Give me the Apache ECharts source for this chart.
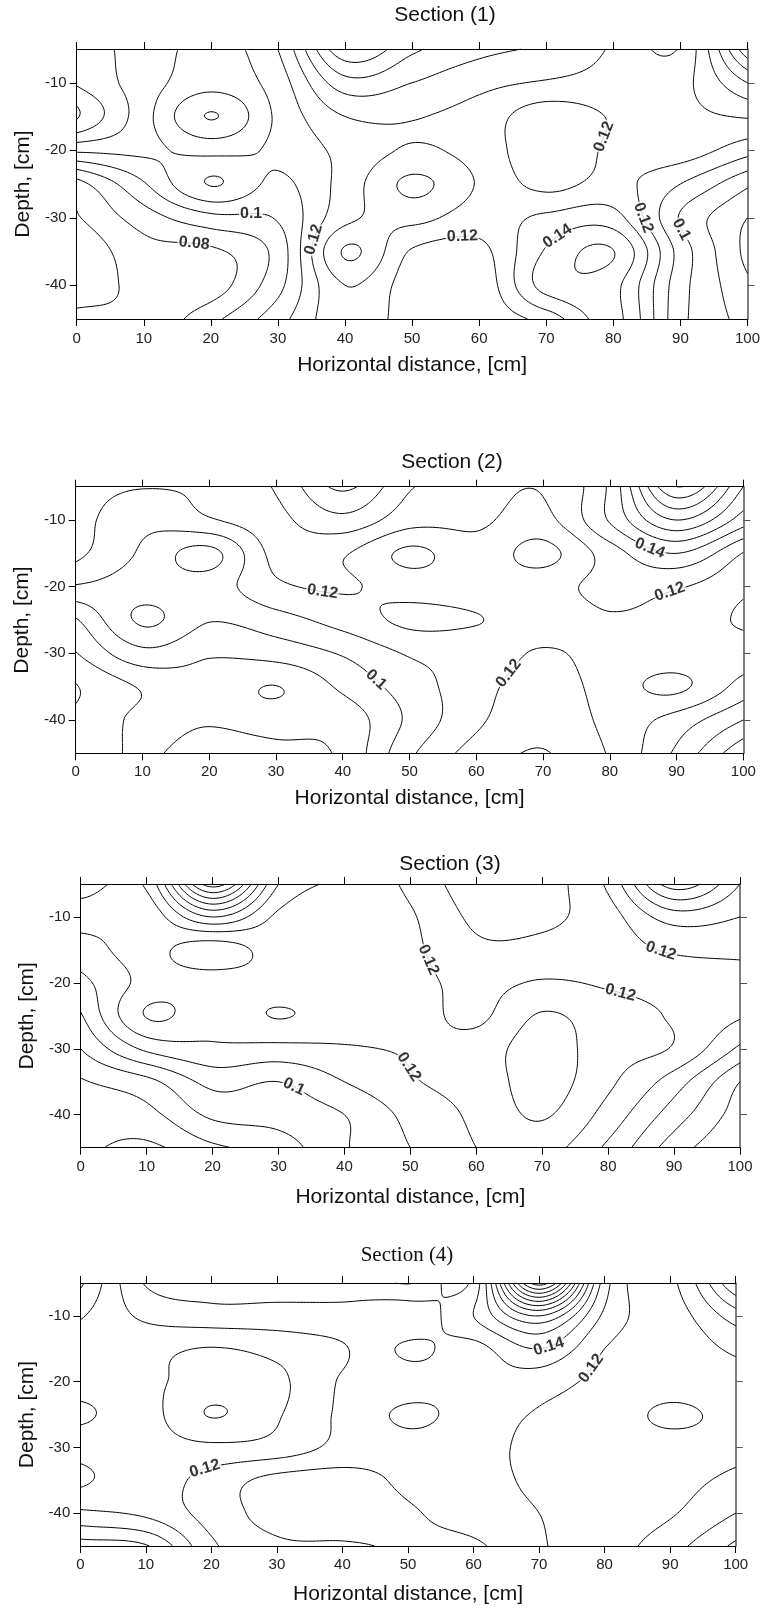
<!DOCTYPE html>
<html lang="en">
<head>
<meta charset="UTF-8" />
<title>Sections</title>
<script src="https://cdn.jsdelivr.net/npm/echarts@6.0.0/dist/echarts.min.js"></script>
<style>
  html, body { margin: 0; padding: 0; background: #fff; }
  #box { width: 763px; height: 1610px; }
</style>
</head>
<body>
<div id="box"></div>
<script>
// grid of readings: columns = horizontal distance, rows = depth
var xCols = [0, 10, 20, 30, 40, 50, 60, 70, 80, 90, 100];
var depthRows = [-5, -10, -15, -20, -25, -30, -35, -40, -45];
var yTicks = [-40, -30, -20, -10];
var levels = [0.06, 0.07, 0.08, 0.09, 0.1, 0.11, 0.12, 0.13, 0.14, 0.15, 0.16, 0.17, 0.18, 0.19, 0.2, 0.21, 0.22, 0.23, 0.24];

var section1 = [
  [0.125, 0.116, 0.107, 0.120, 0.168, 0.152, 0.143, 0.138, 0.129, 0.121, 0.178],
  [0.129, 0.115, 0.104, 0.115, 0.146, 0.140, 0.133, 0.129, 0.127, 0.127, 0.150],
  [0.141, 0.114, 0.0895, 0.112, 0.130, 0.1305, 0.126, 0.114, 0.121, 0.127, 0.131],
  [0.112, 0.112, 0.107, 0.112, 0.123, 0.131, 0.126, 0.113, 0.122, 0.125, 0.114],
  [0.076, 0.099, 0.1205, 0.108, 0.124, 0.142, 0.129, 0.117, 0.123, 0.110, 0.092],
  [0.069, 0.085, 0.097, 0.101, 0.127, 0.133, 0.125, 0.132, 0.134, 0.099, 0.080],
  [0.062, 0.076, 0.078, 0.094, 0.141, 0.119, 0.117, 0.141, 0.1503, 0.106, 0.077],
  [0.066, 0.072, 0.075, 0.097, 0.130, 0.115, 0.113, 0.144, 0.143, 0.104, 0.082],
  [0.072, 0.072, 0.087, 0.106, 0.127, 0.115, 0.113, 0.124, 0.143, 0.103, 0.086]
];
var section2 = [
  [0.124, 0.1205, 0.1225, 0.131, 0.152, 0.131, 0.125, 0.121, 0.142, 0.200, 0.160],
  [0.124, 0.113, 0.119, 0.127, 0.137, 0.124, 0.122, 0.117, 0.141, 0.170, 0.145],
  [0.1225, 0.1085, 0.097, 0.123, 0.121, 0.108, 0.116, 0.107, 0.125, 0.140, 0.1195],
  [0.109, 0.106, 0.105, 0.118, 0.121, 0.116, 0.115, 0.116, 0.123, 0.121, 0.112],
  [0.089, 0.1115, 0.1005, 0.106, 0.114, 0.122, 0.1205, 0.115, 0.119, 0.116, 0.1085],
  [0.0795, 0.097, 0.091, 0.094, 0.101, 0.111, 0.114, 0.121, 0.116, 0.114, 0.114],
  [0.0695, 0.081, 0.086, 0.0798, 0.092, 0.105, 0.116, 0.125, 0.117, 0.122, 0.106],
  [0.072, 0.082, 0.081, 0.083, 0.084, 0.102, 0.118, 0.127, 0.117, 0.106, 0.090],
  [0.075, 0.081, 0.076, 0.077, 0.082, 0.108, 0.124, 0.1305, 0.119, 0.098, 0.072]
];
var section3 = [
  [0.135, 0.132, 0.205, 0.140, 0.128, 0.118, 0.104, 0.106, 0.122, 0.165, 0.140],
  [0.124, 0.123, 0.150, 0.128, 0.126, 0.121, 0.108, 0.108, 0.116, 0.135, 0.130],
  [0.116, 0.123, 0.114, 0.125, 0.126, 0.122, 0.112, 0.113, 0.116, 0.121, 0.122],
  [0.107, 0.123, 0.126, 0.124, 0.125, 0.123, 0.117, 0.121, 0.119, 0.118, 0.116],
  [0.099, 0.1305, 0.124, 0.1305, 0.125, 0.124, 0.118, 0.131, 0.124, 0.119, 0.111],
  [0.090, 0.112, 0.118, 0.117, 0.119, 0.121, 0.124, 0.135, 0.124, 0.119, 0.098],
  [0.079, 0.087, 0.103, 0.100, 0.110, 0.119, 0.124, 0.134, 0.122, 0.105, 0.080],
  [0.074, 0.077, 0.092, 0.094, 0.100, 0.113, 0.122, 0.131, 0.116, 0.095, 0.075],
  [0.072, 0.068, 0.078, 0.085, 0.099, 0.110, 0.120, 0.124, 0.108, 0.085, 0.070]
];
var section4 = [
  [0.098, 0.131, 0.135, 0.135, 0.134, 0.1405, 0.133, 0.245, 0.135, 0.118, 0.160],
  [0.109, 0.122, 0.126, 0.126, 0.127, 0.124, 0.140, 0.170, 0.128, 0.116, 0.135],
  [0.115, 0.113, 0.1095, 0.113, 0.119, 0.1315, 0.127, 0.140, 0.120, 0.114, 0.122],
  [0.114, 0.112, 0.106, 0.108, 0.121, 0.126, 0.128, 0.125, 0.117, 0.114, 0.116],
  [0.1085, 0.113, 0.0995, 0.109, 0.122, 0.1315, 0.126, 0.119, 0.115, 0.1085, 0.113],
  [0.116, 0.114, 0.112, 0.114, 0.123, 0.127, 0.124, 0.117, 0.114, 0.113, 0.112],
  [0.1215, 0.115, 0.124, 0.133, 0.134, 0.128, 0.124, 0.118, 0.115, 0.113, 0.108],
  [0.108, 0.112, 0.124, 0.134, 0.135, 0.131, 0.126, 0.120, 0.116, 0.111, 0.100],
  [0.085, 0.089, 0.118, 0.128, 0.129, 0.131, 0.1315, 0.121, 0.115, 0.104, 0.088]
];

// contour labels: text, level, approx x, approx y
var labels1 = [["0.1", 0.1, 26, -29.4], ["0.08", 0.08, 17.4, -33.9], ["0.12", 0.12, 35.7, -33.4],
  ["0.12", 0.12, 57.6, -32.1], ["0.14", 0.14, 72, -33], ["0.12", 0.12, 82, -19.5],
  ["0.12", 0.12, 85, -29.7], ["0.1", 0.1, 89.6, -31.9]];
var labels2 = [["0.12", 0.12, 36.6, -23], ["0.1", 0.1, 45, -34], ["0.12", 0.12, 66.3, -34],
  ["0.14", 0.14, 85.5, -15.5], ["0.12", 0.12, 89, -21]];
var labels3 = [["0.1", 0.1, 32.2, -35.8], ["0.12", 0.12, 48, -34], ["0.12", 0.12, 55, -15.5],
  ["0.12", 0.12, 88.4, -14], ["0.12", 0.12, 81.5, -22.5]];
var labels4 = [["0.12", 0.12, 18.8, -31.7], ["0.14", 0.14, 71.6, -14.9], ["0.12", 0.12, 75.9, -16.7]];

var panels = [
  { title: "Section (1)", grid: section1, labels: labels1, box: [76.7, 49, 671.6, 270], tpos: [445, 15], serif: false, xGap: 36, xMargin: 12, yGap: 43 },
  { title: "Section (2)", grid: section2, labels: labels2, box: [75.7, 486.7, 667.6, 266.6], tpos: [452, 462], serif: false, xGap: 34, xMargin: 11, yGap: 39 },
  { title: "Section (3)", grid: section3, labels: labels3, box: [80.7, 884, 659.3, 263.7], tpos: [450, 864], serif: false, xGap: 39, xMargin: 12, yGap: 40 },
  { title: "Section (4)", grid: section4, labels: labels4, box: [80.3, 1283, 655.4, 263], tpos: [407, 1255], serif: true, xGap: 38, xMargin: 11, yGap: 35 }
];

// --- field sampling (Catmull-Rom across the reading grid) ---
function cell(g, r, c) {
  var nr = g.length, nc = g[0].length;
  if (r < 0) return 2 * cell(g, 0, c) - cell(g, 1, c);
  if (r >= nr) return 2 * cell(g, nr - 1, c) - cell(g, nr - 2, c);
  if (c < 0) return 2 * cell(g, r, 0) - cell(g, r, 1);
  if (c >= nc) return 2 * cell(g, r, nc - 1) - cell(g, r, nc - 2);
  return g[r][c];
}
function cubic(p0, p1, p2, p3, t) {
  return p1 + 0.5 * t * (p2 - p0 + t * (2 * p0 - 5 * p1 + 4 * p2 - p3 + t * (3 * (p1 - p2) + p3 - p0)));
}
function sample(g, x, y) {
  var u = (x - xCols[0]) / (xCols[1] - xCols[0]);
  var v = (y - depthRows[0]) / (depthRows[1] - depthRows[0]);
  var i = Math.min(Math.floor(u), g[0].length - 2), j = Math.min(Math.floor(v), g.length - 2);
  var t = u - i, s = v - j, rows = [];
  for (var k = -1; k <= 2; k++) {
    rows.push(cubic(cell(g, j + k, i - 1), cell(g, j + k, i), cell(g, j + k, i + 1), cell(g, j + k, i + 2), t));
  }
  return cubic(rows[0], rows[1], rows[2], rows[3], s);
}

// --- marching squares ---
function contours(g) {
  var nx = 200, ny = 160;
  var x0 = xCols[0], x1 = xCols[xCols.length - 1];
  var y0 = depthRows[0], y1 = depthRows[depthRows.length - 1];
  var dx = (x1 - x0) / nx, dy = (y1 - y0) / ny;
  var F = [];
  for (var j = 0; j <= ny; j++) {
    var row = [];
    for (var i = 0; i <= nx; i++) row.push(sample(g, x0 + i * dx, y0 + j * dy));
    F.push(row);
  }
  var out = [];
  levels.forEach(function (L) {
    var pts = {}, segs = [];
    function hp(i, j) {
      var k = "h" + i + "_" + j;
      if (!pts[k]) { var a = F[j][i], b = F[j][i + 1], t = (L - a) / (b - a); pts[k] = [x0 + (i + t) * dx, y0 + j * dy]; }
      return k;
    }
    function vp(i, j) {
      var k = "v" + i + "_" + j;
      if (!pts[k]) { var a = F[j][i], b = F[j + 1][i], t = (L - a) / (b - a); pts[k] = [x0 + i * dx, y0 + (j + t) * dy]; }
      return k;
    }
    for (var j = 0; j < ny; j++) {
      for (var i = 0; i < nx; i++) {
        var a = F[j][i], b = F[j][i + 1], c = F[j + 1][i + 1], d = F[j + 1][i];
        var cs = (a >= L ? 8 : 0) | (b >= L ? 4 : 0) | (c >= L ? 2 : 0) | (d >= L ? 1 : 0);
        if (cs === 0 || cs === 15) continue;
        var T = hp(i, j), B = hp(i, j + 1), Lf = vp(i, j), R = vp(i + 1, j);
        var mid = (a + b + c + d) / 4 >= L;
        switch (cs) {
          case 1: case 14: segs.push([Lf, B]); break;
          case 2: case 13: segs.push([B, R]); break;
          case 3: case 12: segs.push([Lf, R]); break;
          case 4: case 11: segs.push([T, R]); break;
          case 6: case 9: segs.push([T, B]); break;
          case 7: case 8: segs.push([Lf, T]); break;
          case 5:
            if (mid) { segs.push([Lf, T]); segs.push([B, R]); } else { segs.push([T, R]); segs.push([Lf, B]); }
            break;
          case 10:
            if (mid) { segs.push([T, R]); segs.push([Lf, B]); } else { segs.push([Lf, T]); segs.push([B, R]); }
            break;
        }
      }
    }
    // chain segments into polylines
    var adj = {}, used = [];
    segs.forEach(function (s, k) {
      (adj[s[0]] = adj[s[0]] || []).push(k);
      (adj[s[1]] = adj[s[1]] || []).push(k);
      used.push(false);
    });
    function grow(chain) {
      while (true) {
        var end = chain[chain.length - 1], nxt = -1, list = adj[end];
        for (var q = 0; q < list.length; q++) if (!used[list[q]]) { nxt = list[q]; break; }
        if (nxt < 0) break;
        used[nxt] = true;
        chain.push(segs[nxt][0] === end ? segs[nxt][1] : segs[nxt][0]);
      }
    }
    for (var k = 0; k < segs.length; k++) {
      if (used[k]) continue;
      used[k] = true;
      var chain = [segs[k][0], segs[k][1]];
      grow(chain); chain.reverse(); grow(chain);
      out.push({ level: L, coords: chain.map(function (key) { return pts[key]; }) });
    }
  });
  return out;
}

function placeLabels(lines, labs, box) {
  var sx = box[2] / 100, sy = box[3] / 40;
  return labs.map(function (lb) {
    var best = null, bd = Infinity;
    lines.forEach(function (ln) {
      if (Math.abs(ln.level - lb[1]) > 1e-6) return;
      ln.coords.forEach(function (p, idx) {
        var d = Math.hypot((p[0] - lb[2]) * sx, (p[1] - lb[3]) * sy);
        if (d < bd) { bd = d; best = { ln: ln, idx: idx }; }
      });
    });
    var pos = [lb[2], lb[3]], ang = 0;
    if (best && bd < 40) {
      var c = best.ln.coords, n = c.length;
      var p1 = c[Math.max(0, best.idx - 4)], p2 = c[Math.min(n - 1, best.idx + 4)];
      pos = c[best.idx];
      ang = Math.atan2((p2[1] - p1[1]) * sy, (p2[0] - p1[0]) * sx) * 180 / Math.PI;
      if (ang > 90) ang -= 180;
      if (ang < -90) ang += 180;
    }
    return { value: pos, label: { formatter: lb[0], rotate: ang } };
  });
}

var sans = "Liberation Sans, Arial, sans-serif";
var grids = [], xAxes = [], yAxes = [], series = [], graphics = [];
panels.forEach(function (p, n) {
  var b = p.box;
  grids.push({ left: b[0], top: b[1], width: b[2], height: b[3] });
  var tick = { length: 7, lineStyle: { color: "#000", width: 1 } };
  var line = { onZero: false, lineStyle: { color: "#000", width: 1 } };
  xAxes.push({
    gridIndex: n, type: "value", min: 0, max: 100, interval: 10, position: "bottom",
    axisLine: line, axisTick: tick, splitLine: { show: false },
    axisLabel: { fontSize: 15, color: "#222", fontFamily: sans, margin: p.xMargin },
    name: "Horizontal distance, [cm]", nameLocation: "middle", nameGap: p.xGap,
    nameTextStyle: { fontSize: 21, color: "#111", fontFamily: sans }
  });
  xAxes.push({
    gridIndex: n, type: "value", min: 0, max: 100, interval: 10, position: "top",
    axisLine: line, axisTick: tick, axisLabel: { show: false }, splitLine: { show: false }
  });
  yAxes.push({
    gridIndex: n, type: "value", min: -45, max: -5, position: "left",
    axisLine: line, axisTick: { length: 7, lineStyle: { color: "#000" }, customValues: yTicks },
    splitLine: { show: false },
    axisLabel: { fontSize: 15, color: "#222", fontFamily: sans, margin: 10, customValues: yTicks },
    name: "Depth, [cm]", nameLocation: "middle", nameGap: p.yGap,
    nameTextStyle: { fontSize: 21, color: "#111", fontFamily: sans }
  });
  yAxes.push({
    gridIndex: n, type: "value", min: -45, max: -5, position: "right",
    axisLine: { onZero: false, lineStyle: { color: "#555", width: 1.5 } },
    axisTick: { length: 7, lineStyle: { color: "#555" }, customValues: yTicks },
    axisLabel: { show: false, customValues: yTicks }, splitLine: { show: false }
  });
  var cl = contours(p.grid);
  series.push({
    type: "lines", coordinateSystem: "cartesian2d", polyline: true,
    xAxisIndex: n * 2, yAxisIndex: n * 2, silent: true, animation: false,
    lineStyle: { color: "#000", width: 1, opacity: 1 },
    data: cl.map(function (c) { return { coords: c.coords }; })
  });
  series.push({
    type: "scatter", xAxisIndex: n * 2, yAxisIndex: n * 2, symbolSize: 1, z: 5,
    itemStyle: { color: "rgba(0,0,0,0)" }, silent: true, animation: false,
    label: { show: true, position: "inside", fontSize: 16, fontWeight: "bold", color: "#000",
      fontFamily: sans, backgroundColor: "#fff", padding: [0, 1] },
    data: placeLabels(cl, p.labels, b)
  });
  graphics.push({
    type: "text", x: p.tpos[0], y: p.tpos[1],
    style: { text: p.title, fill: "#111", textAlign: "center", textVerticalAlign: "middle",
      font: "21px " + (p.serif ? "Liberation Serif, Times New Roman, serif" : sans) }
  });
});

var myChart = echarts.init(document.getElementById("box"));
myChart.setOption({
  animation: false,
  grid: grids, xAxis: xAxes, yAxis: yAxes, series: series, graphic: graphics
});
</script>
</body>
</html>
